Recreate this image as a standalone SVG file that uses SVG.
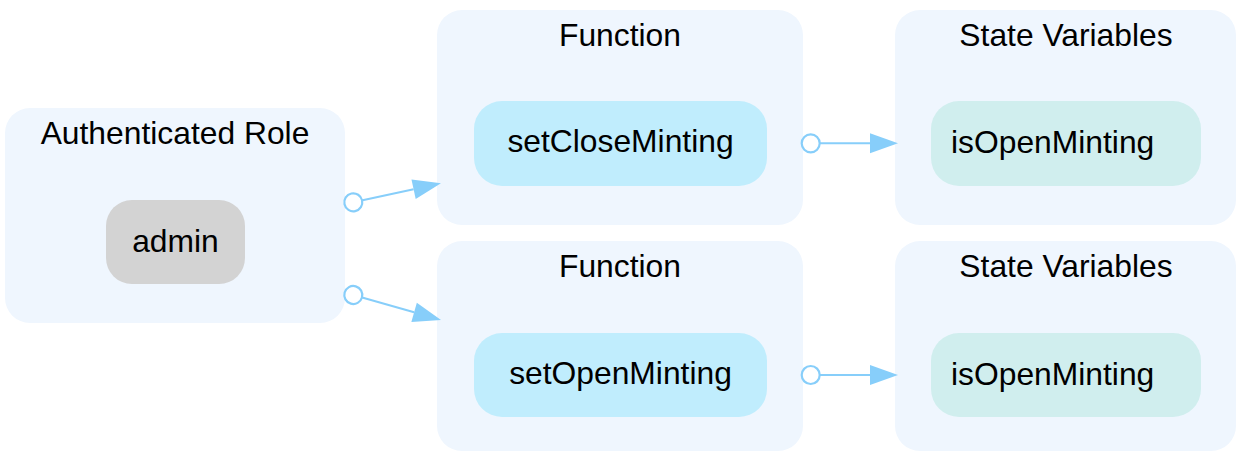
<svg xmlns="http://www.w3.org/2000/svg" width="1237" height="452" viewBox="0 0 1237 452">
  <style>
    .cluster { fill: #eff6fe; }
    .fn { fill: #c0edfd; }
    .state { fill: #d0eeee; }
    .role { fill: #d3d3d3; }
    text { font-family: "Liberation Sans", Arial, sans-serif; font-size: 31.8px; fill: #000; }
    .mid { text-anchor: middle; }
    .edge { fill: none; stroke: #87cefa; stroke-width: 2; marker-start: url(#dot); marker-end: url(#arrow); }
  </style>
  <defs>
    <marker id="arrow" markerUnits="userSpaceOnUse" markerWidth="30" markerHeight="22" refX="0" refY="10" orient="auto" overflow="visible">
      <path d="M0,0 L28,10 L0,20 z" fill="#87cefa"/>
    </marker>
    <marker id="dot" markerUnits="userSpaceOnUse" markerWidth="22" markerHeight="22" refX="11" refY="11" orient="auto" overflow="visible">
      <circle cx="11" cy="11" r="9" fill="#ffffff" stroke="#87cefa" stroke-width="2.2"/>
    </marker>
  </defs>
  <rect width="1237" height="452" fill="#ffffff"/>

  <g id="role-cluster">
    <rect class="cluster" x="5" y="108" width="340" height="215" rx="25"/>
    <text class="mid" x="175" y="144">Authenticated Role</text>
  </g>
  <g id="admin">
    <rect class="role" x="106" y="200" width="139" height="84" rx="26"/>
    <text class="mid" x="175.5" y="252">admin</text>
  </g>

  <g id="function-cluster-1">
    <rect class="cluster" x="437" y="10" width="366" height="215" rx="25"/>
    <text class="mid" x="620" y="46">Function</text>
  </g>
  <g id="setCloseMinting">
    <rect class="fn" x="474" y="101" width="293" height="85" rx="28"/>
    <text class="mid" x="620.5" y="152">setCloseMinting</text>
  </g>

  <g id="function-cluster-2">
    <rect class="cluster" x="437" y="241" width="366" height="210" rx="25"/>
    <text class="mid" x="620" y="277">Function</text>
  </g>
  <g id="setOpenMinting">
    <rect class="fn" x="474" y="333" width="293" height="84" rx="28"/>
    <text class="mid" x="620.5" y="384">setOpenMinting</text>
  </g>

  <g id="state-cluster-1">
    <rect class="cluster" x="895" y="10" width="341" height="215" rx="25"/>
    <text class="mid" x="1066" y="46">State Variables</text>
  </g>
  <g id="isOpenMinting-1">
    <rect class="state" x="931" y="101" width="270" height="85" rx="28"/>
    <text x="951" y="153">isOpenMinting</text>
  </g>

  <g id="state-cluster-2">
    <rect class="cluster" x="895" y="241" width="341" height="210" rx="25"/>
    <text class="mid" x="1066" y="277">State Variables</text>
  </g>
  <g id="isOpenMinting-2">
    <rect class="state" x="931" y="333" width="270" height="84" rx="28"/>
    <text x="951" y="385">isOpenMinting</text>
  </g>

  <g id="connectors">
    <path class="edge" d="M353.3,202.3 L413.6,189.2"/>
    <path class="edge" d="M353.3,295 L414.1,312.3"/>
    <path class="edge" d="M810.7,143.3 L870,143.3"/>
    <path class="edge" d="M810.7,375 L870,375"/>
  </g>
</svg>
